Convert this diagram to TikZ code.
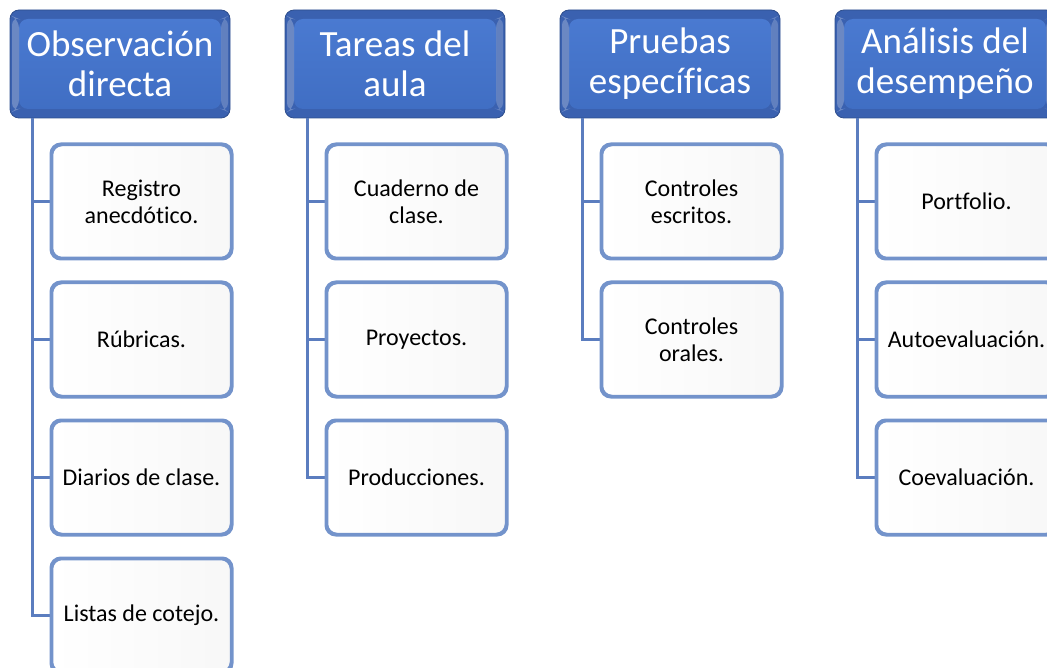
\documentclass[tikz,border=0pt]{standalone}
\usepackage{fontspec}
\setmainfont{Carlito}[Ligatures=NoCommon]
\definecolor{hdrout}{HTML}{3A61B0}
\definecolor{hdrtop}{HTML}{4B7BD2}
\definecolor{hdrbot}{HTML}{3F6DC2}
\definecolor{edge}{HTML}{7393CB}
\definecolor{spine}{HTML}{5B7DBF}
\tikzset{
  hdrbox/.style={rounded corners=9pt, minimum width=220pt, minimum height=108pt,
    fill=hdrout, draw=hdrout!80!black, line width=0.8pt, text=white, align=center,
    font=\fontsize{37}{40}\selectfont, inner sep=0pt,
    path picture={
      \shade[top color=hdrtop, bottom color=hdrbot]
        ([shift={(9pt,-9pt)}]path picture bounding box.north west) rectangle
        ([shift={(-9pt,9pt)}]path picture bounding box.south east);
      \fill[white, opacity=0.25]
        ([shift={(2pt,-6pt)}]path picture bounding box.north west) --
        ([shift={(9pt,-9pt)}]path picture bounding box.north west) --
        ([shift={(9pt,9pt)}]path picture bounding box.south west) --
        ([shift={(2pt,6pt)}]path picture bounding box.south west) -- cycle;
      \fill[white, opacity=0.2]
        ([shift={(-2pt,-6pt)}]path picture bounding box.north east) --
        ([shift={(-9pt,-9pt)}]path picture bounding box.north east) --
        ([shift={(-9pt,9pt)}]path picture bounding box.south east) --
        ([shift={(-2pt,6pt)}]path picture bounding box.south east) -- cycle;
    }},
  kidbox/.style={rounded corners=10pt, minimum width=179pt, minimum height=113pt,
    draw=edge, line width=2.5pt, left color=white, right color=gray!6, align=center,
    font=\fontsize{24}{27}\selectfont, inner sep=0pt},
  link/.style={draw=spine, line width=3pt}
}
\begin{document}
\begin{tikzpicture}[x=1pt, y=-1pt]
\useasboundingbox (0,0) rectangle (1047,668);
\clip (0,0) rectangle (1047,668);
\node[hdrbox] (h1) at (120,64) {Observación\\directa};
\node[hdrbox] (h2) at (395,64) {Tareas del\\aula};
\node[hdrbox] (h3) at (670,64) {Pruebas\\específicas};
\node[hdrbox] (h4) at (945,64) {Análisis del\\desempeño};
\node[kidbox] (a1) at (141.5,201.5) {Registro\\anecdótico.};
\node[kidbox] (a2) at (141.5,339.5) {Rúbricas.};
\node[kidbox] (a3) at (141.5,477.5) {Diarios de clase.};
\node[kidbox] (a4) at (141.5,615.5) {Listas de cotejo.};
\node[kidbox] (b1) at (416.5,201.5) {Cuaderno de\\clase.};
\node[kidbox] (b2) at (416.5,339.5) {Proyectos.};
\node[kidbox] (b3) at (416.5,477.5) {Producciones.};
\node[kidbox] (c1) at (691.5,201.5) {Controles\\escritos.};
\node[kidbox] (c2) at (691.5,339.5) {Controles\\orales.};
\node[kidbox] (d1) at (966.5,201.5) {Portfolio.};
\node[kidbox] (d2) at (966.5,339.5) {Autoevaluación.};
\node[kidbox] (d3) at (966.5,477.5) {Coevaluación.};
\foreach \h/\k in {h1/a1,h1/a2,h1/a3,h1/a4,h2/b1,h2/b2,h2/b3,h3/c1,h3/c2,h4/d1,h4/d2,h4/d3}
  \draw[link] ([xshift=23pt]\h.south west) |- (\k.west);
\foreach \k in {a1,a2,a3,a4,b1,b2,b3,c1,c2,d1,d2,d3}
  \draw[edge, line width=2.5pt, rounded corners=10pt] (\k.north west) rectangle (\k.south east);
\end{tikzpicture}
\end{document}
